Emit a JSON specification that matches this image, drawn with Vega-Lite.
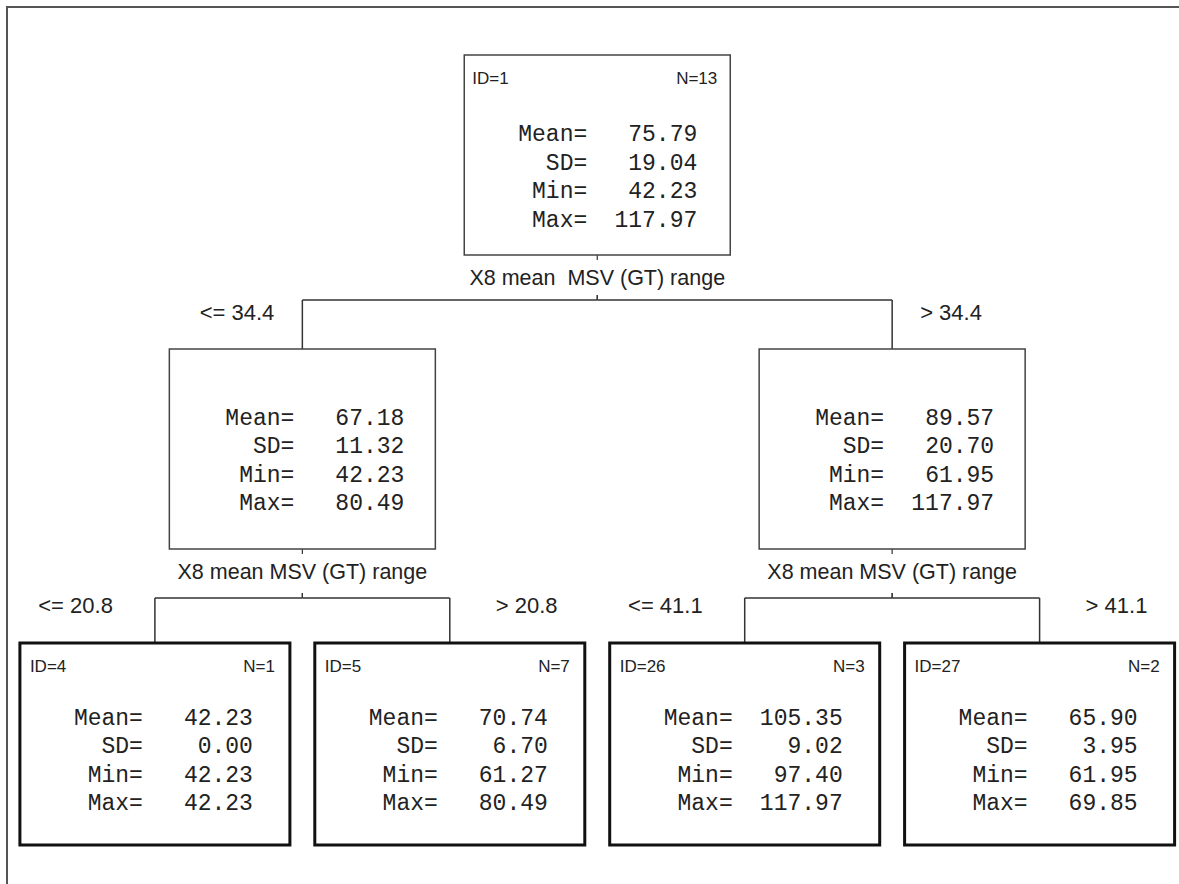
{
  "$schema": "https://vega.github.io/schema/vega-lite/v6.json",
  "width": 1179,
  "height": 884,
  "autosize": {"type": "fit", "contains": "padding"},
  "padding": {"left": 7, "top": 7, "right": -10, "bottom": -10},
  "background": "white",
  "config": {"view": {"stroke": "#555", "strokeWidth": 2}},
  "data": {
    "values": [
      {"node": 1, "level": 0, "col": 1.5, "pcol": null, "id": 1, "n": 13, "mean": 75.79, "sd": 19.04, "min": 42.23, "max": 117.97, "split": "X8 mean\u00a0 MSV (GT) range", "cond": null, "side": null},
      {"node": 2, "level": 1, "col": 0.5, "pcol": 1.5, "id": null, "n": null, "mean": 67.18, "sd": 11.32, "min": 42.23, "max": 80.49, "split": "X8 mean MSV (GT) range", "cond": "<= 34.4", "side": "L"},
      {"node": 3, "level": 1, "col": 2.5, "pcol": 1.5, "id": null, "n": null, "mean": 89.57, "sd": 20.70, "min": 61.95, "max": 117.97, "split": "X8 mean MSV (GT) range", "cond": "> 34.4", "side": "R"},
      {"node": 4, "level": 2, "col": 0, "pcol": 0.5, "id": 4, "n": 1, "mean": 42.23, "sd": 0.00, "min": 42.23, "max": 42.23, "split": null, "cond": "<= 20.8", "side": "L"},
      {"node": 5, "level": 2, "col": 1, "pcol": 0.5, "id": 5, "n": 7, "mean": 70.74, "sd": 6.70, "min": 61.27, "max": 80.49, "split": null, "cond": "> 20.8", "side": "R"},
      {"node": 26, "level": 2, "col": 2, "pcol": 2.5, "id": 26, "n": 3, "mean": 105.35, "sd": 9.02, "min": 97.40, "max": 117.97, "split": null, "cond": "<= 41.1", "side": "L"},
      {"node": 27, "level": 2, "col": 3, "pcol": 2.5, "id": 27, "n": 2, "mean": 65.90, "sd": 3.95, "min": 61.95, "max": 69.85, "split": null, "cond": "> 41.1", "side": "R"}
    ]
  },
  "transform": [
    {"calculate": "[format(datum.mean,'.2f'), format(datum.sd,'.2f'), format(datum.min,'.2f'), format(datum.max,'.2f')]", "as": "stats"}
  ],
  "encoding": {
    "x": {"field": "col", "type": "quantitative", "scale": {"domain": [-0.50153, 3.50661], "nice": false, "zero": false}, "axis": null},
    "y": {"field": "level", "type": "quantitative", "scale": {"domain": [-0.163265, 2.853742], "nice": false, "zero": false, "reverse": true}, "axis": null}
  },
  "layer": [
    {
      "transform": [{"filter": "datum.level == 1"}],
      "mark": {"type": "rule", "yOffset": -49, "stroke": "#333", "strokeWidth": 1.5},
      "encoding": {"x2": {"field": "pcol"}}
    },
    {
      "transform": [{"filter": "datum.level == 1"}],
      "mark": {"type": "rule", "yOffset": -49, "y2Offset": 0, "stroke": "#333", "strokeWidth": 1.5},
      "encoding": {"y2": {"field": "level"}}
    },
    {
      "transform": [{"filter": "datum.level == 1"}],
      "mark": {"type": "rule", "yOffset": -54, "y2Offset": -49, "stroke": "#333", "strokeWidth": 1.2},
      "encoding": {"x": {"field": "pcol", "type": "quantitative"}, "y2": {"field": "level"}}
    },
    {
      "transform": [{"filter": "datum.level == 2"}],
      "mark": {"type": "rule", "yOffset": -45, "stroke": "#333", "strokeWidth": 1.5},
      "encoding": {"x2": {"field": "pcol"}}
    },
    {
      "transform": [{"filter": "datum.level == 2"}],
      "mark": {"type": "rule", "yOffset": -45, "y2Offset": 0, "stroke": "#333", "strokeWidth": 1.5},
      "encoding": {"y2": {"field": "level"}}
    },
    {
      "transform": [{"filter": "datum.level == 2"}],
      "mark": {"type": "rule", "yOffset": -50, "y2Offset": -45, "stroke": "#333", "strokeWidth": 1.2},
      "encoding": {"x": {"field": "pcol", "type": "quantitative"}, "y2": {"field": "level"}}
    },
    {
      "transform": [{"filter": "datum.level < 2"}],
      "mark": {"type": "rule", "yOffset": 200, "y2Offset": 205, "stroke": "#333", "strokeWidth": 1.2},
      "encoding": {"y2": {"field": "level"}}
    },
    {
      "transform": [{"filter": "datum.level < 2"}],
      "mark": {"type": "rect", "xOffset": -133, "x2Offset": 133, "yOffset": 0, "y2Offset": 200, "fill": "white", "stroke": "#444", "strokeWidth": 1.5},
      "encoding": {"x2": {"field": "col"}, "y2": {"field": "level"}}
    },
    {
      "transform": [{"filter": "datum.level == 2"}],
      "mark": {"type": "rect", "xOffset": -135, "x2Offset": 135, "yOffset": 0, "y2Offset": 202, "fill": "white", "stroke": "#111", "strokeWidth": 3},
      "encoding": {"x2": {"field": "col"}, "y2": {"field": "level"}}
    },
    {
      "transform": [{"filter": "isValid(datum.id)"}, {"calculate": "'ID=' + datum.id", "as": "idText"}],
      "mark": {"type": "text", "align": "left", "baseline": "middle", "xOffset": -125, "yOffset": 24, "font": "Liberation Sans", "fontSize": 17, "fill": "#222"},
      "encoding": {"text": {"field": "idText", "type": "nominal"}}
    },
    {
      "transform": [{"filter": "isValid(datum.n)"}, {"calculate": "'N=' + datum.n", "as": "nText"}],
      "mark": {"type": "text", "align": "right", "baseline": "middle", "xOffset": 120, "yOffset": 24, "font": "Liberation Sans", "fontSize": 17, "fill": "#222"},
      "encoding": {"text": {"field": "nText", "type": "nominal"}}
    },
    {
      "transform": [{"filter": "datum.level == 0"}],
      "mark": {"type": "text", "align": "right", "baseline": "top", "xOffset": -10, "yOffset": 68, "lineHeight": 28.7, "font": "Liberation Mono", "fontSize": 23, "fill": "#222", "text": ["Mean=", "SD=", "Min=", "Max="]}
    },
    {
      "transform": [{"filter": "datum.level == 0"}],
      "mark": {"type": "text", "align": "right", "baseline": "top", "xOffset": 100, "yOffset": 68, "lineHeight": 28.7, "font": "Liberation Mono", "fontSize": 23, "fill": "#222"},
      "encoding": {"text": {"field": "stats", "type": "nominal"}}
    },
    {
      "transform": [{"filter": "datum.level == 1"}],
      "mark": {"type": "text", "align": "right", "baseline": "top", "xOffset": -8, "yOffset": 58, "lineHeight": 28.5, "font": "Liberation Mono", "fontSize": 23, "fill": "#222", "text": ["Mean=", "SD=", "Min=", "Max="]}
    },
    {
      "transform": [{"filter": "datum.level == 1"}],
      "mark": {"type": "text", "align": "right", "baseline": "top", "xOffset": 102, "yOffset": 58, "lineHeight": 28.5, "font": "Liberation Mono", "fontSize": 23, "fill": "#222"},
      "encoding": {"text": {"field": "stats", "type": "nominal"}}
    },
    {
      "transform": [{"filter": "datum.level == 2"}],
      "mark": {"type": "text", "align": "right", "baseline": "top", "xOffset": -12, "yOffset": 64, "lineHeight": 28.5, "font": "Liberation Mono", "fontSize": 23, "fill": "#222", "text": ["Mean=", "SD=", "Min=", "Max="]}
    },
    {
      "transform": [{"filter": "datum.level == 2"}],
      "mark": {"type": "text", "align": "right", "baseline": "top", "xOffset": 98, "yOffset": 64, "lineHeight": 28.5, "font": "Liberation Mono", "fontSize": 23, "fill": "#222"},
      "encoding": {"text": {"field": "stats", "type": "nominal"}}
    },
    {
      "transform": [{"filter": "isValid(datum.split)"}],
      "mark": {"type": "text", "align": "center", "baseline": "middle", "yOffset": 224, "font": "Liberation Sans", "fontSize": 21.5, "fill": "#222"},
      "encoding": {"text": {"field": "split", "type": "nominal"}}
    },
    {
      "transform": [{"filter": "datum.level == 1 && datum.side == 'L'"}],
      "mark": {"type": "text", "align": "right", "baseline": "middle", "xOffset": -28, "yOffset": -36, "font": "Liberation Sans", "fontSize": 22, "fill": "#222"},
      "encoding": {"text": {"field": "cond", "type": "nominal"}}
    },
    {
      "transform": [{"filter": "datum.level == 1 && datum.side == 'R'"}],
      "mark": {"type": "text", "align": "left", "baseline": "middle", "xOffset": 28, "yOffset": -36, "font": "Liberation Sans", "fontSize": 22, "fill": "#222"},
      "encoding": {"text": {"field": "cond", "type": "nominal"}}
    },
    {
      "transform": [{"filter": "datum.level == 2 && datum.side == 'L'"}],
      "mark": {"type": "text", "align": "right", "baseline": "middle", "xOffset": -42, "yOffset": -37, "font": "Liberation Sans", "fontSize": 22, "fill": "#222"},
      "encoding": {"text": {"field": "cond", "type": "nominal"}}
    },
    {
      "transform": [{"filter": "datum.level == 2 && datum.side == 'R'"}],
      "mark": {"type": "text", "align": "left", "baseline": "middle", "xOffset": 46, "yOffset": -37, "font": "Liberation Sans", "fontSize": 22, "fill": "#222"},
      "encoding": {"text": {"field": "cond", "type": "nominal"}}
    }
  ]
}
